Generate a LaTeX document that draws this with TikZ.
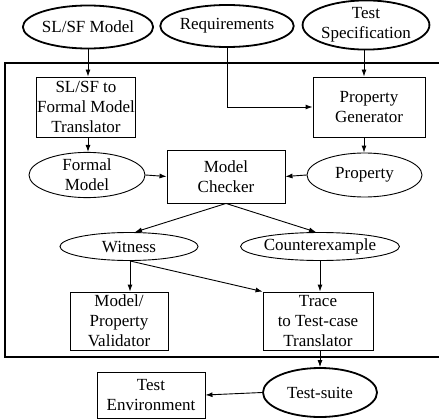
\documentclass[tikz,border=0pt]{standalone}
\usepackage{fontspec}
\setmainfont{Liberation Serif}
\usetikzlibrary{shapes.geometric,arrows.meta}
\tikzset{
  box/.style={draw, line width=0.9pt, rectangle, align=center, inner sep=0pt},
  oval/.style={draw, line width=0.9pt, ellipse, align=center, inner sep=0pt},
  bigoval/.style={oval, line width=1.8pt},
}
\begin{document}
\begin{tikzpicture}[x=1pt, y=-1pt, >={Latex[length=7pt,width=5pt]}, line width=0.9pt,
  font=\fontsize{17}{20}\selectfont]
\useasboundingbox (0,0) rectangle (439,420);
\draw[line width=1.8pt] (440,63) -- (5,63) -- (5,357) -- (440,357);

\node[bigoval, minimum width=114pt, minimum height=43pt] (slsf) at (88,27) {SL/SF Model};
\node[bigoval, minimum width=115pt, minimum height=42pt] (req) at (227,26) {Requirements};
\node[bigoval, minimum width=120pt, minimum height=48pt] (spec) at (366,25) {Test\\Specification};

\node[box, minimum width=99pt, minimum height=60pt] (trans) at (86,107) {SL/SF to\\Formal Model\\Translator};
\node[box, minimum width=112pt, minimum height=60pt] (propgen) at (369,107) {Property\\Generator};

\node[oval, minimum width=116pt, minimum height=44pt] (formal) at (87,175) {Formal\\Model};
\node[box, minimum width=118pt, minimum height=53pt] (checker) at (226,176.5) {Model\\Checker};
\node[oval, minimum width=115pt, minimum height=44pt] (prop) at (364.5,175) {Property};

\node[oval, minimum width=138pt, minimum height=28pt] (witness) at (129,246.5) {Witness};
\node[oval, minimum width=140pt, minimum height=28pt] (counter) at (320,246.5) {Counterexample};

\node[box, minimum width=98pt, minimum height=58pt] (valid) at (119,321) {Model/\\Property\\Validator};
\node[box, minimum width=110pt, minimum height=58pt] (trace) at (318,321) {Trace\\to Test-case\\Translator};

\node[bigoval, minimum width=114pt, minimum height=49pt] (suite) at (320,392.5) {Test-suite};
\node[box, minimum width=108pt, minimum height=46pt] (env) at (151,395) {Test\\Environment};

\draw[->] (slsf.south) -- (slsf.south |- trans.north);
\draw[->] (req.south) |- (propgen.west);
\draw[->] (364,0 |- spec.south) -- (364,0 |- propgen.north);
\draw[->] (88,0 |- trans.south) -- (88,0 |- formal.north);
\draw[->] (364,0 |- propgen.south) -- (364,0 |- prop.north);
\draw[->] (formal.east) -- (checker.west);
\draw[->] (prop.west) -- (checker.east);
\draw[->] (checker.south) -- (135,0 |- witness.north);
\draw[->] (checker.south) -- (316,0 |- counter.north);
\draw[->] (130,0 |- witness.south) -- (130,0 |- valid.north);
\draw[->] (130,0 |- witness.south) -- (trace.north west);
\draw[->] (320,0 |- counter.south) -- (320,0 |- trace.north);
\draw[->] (320,0 |- trace.south) -- (suite.north);
\draw[->] (suite.west) -- (env.east);
\end{tikzpicture}
\end{document}
